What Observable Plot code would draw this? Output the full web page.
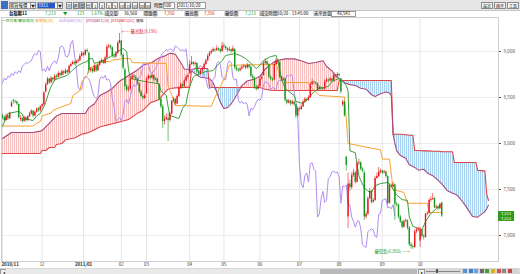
<!DOCTYPE html>
<html><head><meta charset="utf-8">
<script src="https://cdn.jsdelivr.net/npm/d3@7"></script>
<script src="https://cdn.jsdelivr.net/npm/@observablehq/plot@0.6"></script>
<style>
body{margin:0;width:520px;height:274px;overflow:hidden;background:#fff;position:relative;font-family:"Noto Sans CJK TC","Noto Sans",sans-serif}
.a{position:absolute;white-space:nowrap;font-size:4.3px;line-height:5px}
.lg{position:absolute;white-space:nowrap;font-size:3.8px;line-height:5px}
.box{position:absolute;box-sizing:border-box;border:0.5px solid #9a9a9a;background:#fff}
.btn{position:absolute;box-sizing:border-box;border:0.5px solid #8a8a8a;background:#f4f4f4;font-size:4px;line-height:6px;text-align:center;color:#222}
.lab{position:absolute;background:#dcdcdc;font-size:4.3px;line-height:5px;padding:0 1px;color:#222}
</style></head><body>
<svg width="0" height="0" style="position:absolute"><defs>
<pattern id="hr" width="2" height="4" patternUnits="userSpaceOnUse"><rect width="2" height="4" fill="#fff7f7"/><rect width="0.8" height="4" fill="#f5b4b4"/></pattern>
<pattern id="hb" width="2" height="4" patternUnits="userSpaceOnUse"><rect width="2" height="4" fill="#edf6fd"/><rect width="0.8" height="4" fill="#96c8ec"/></pattern>
</defs></svg>

<!-- toolbar row -->
<div style="position:absolute;left:0;top:0;width:520px;height:10px;background:#e6e6e6;border-bottom:0.5px solid #c4c4c4"></div>
<div style="position:absolute;left:1px;top:1px;width:7px;height:8px;background:#3d6fc4"></div>
<div class="box" style="left:9px;top:1.5px;width:27px;height:7px"></div><div class="a" style="left:10px;top:2.5px">期貨報價</div><div class="btn" style="left:30px;top:1.5px;width:6px;height:7px">▼</div>
<div class="box" style="left:37px;top:1.5px;width:26px;height:7px"></div><div style="position:absolute;left:38px;top:2.5px;width:17px;height:5px;background:#2b58c8"></div><div class="a" style="left:38.5px;top:2.5px;color:#fff">TX11</div><div class="btn" style="left:57px;top:1.5px;width:6px;height:7px">▼</div>
<div id="tbtns"></div>
<div class="a" style="left:154px;top:2.5px">時間</div>
<div class="box" style="left:163px;top:1.5px;width:12px;height:7px"></div><div class="a" style="left:164px;top:2.5px">500</div>
<div class="box" style="left:177px;top:1.5px;width:29px;height:7px"></div><div class="a" style="left:178px;top:2.5px">2011/10/20</div>
<div class="btn" style="left:481px;top:1.5px;width:12px;height:7px">設定</div>
<div class="btn" style="left:494px;top:1.5px;width:12px;height:7px">操作</div>
<div class="btn" style="left:507px;top:1.5px;width:12px;height:7px">工具</div>

<!-- quote row -->
<div class="a" style="left:9px;top:11px;font-weight:bold">台指期11</div>
<div class="a" style="left:45px;top:11px;color:#1f9a1f">7,213</div>
<div class="a" style="left:63px;top:11px;color:#1f9a1f">▼</div>
<div class="a" style="left:77px;top:11px;color:#1f9a1f">123</div>
<div class="a" style="left:91px;top:11px;color:#1f9a1f">1.67%</div>
<div class="lab" style="left:104px;top:11px">成交量</div>
<div class="a" style="left:124px;top:11px">36,560</div>
<div class="lab" style="left:143px;top:11px">開盤價</div>
<div class="a" style="left:164px;top:11px;color:#e02020">7,356</div>
<div class="lab" style="left:184px;top:11px">最高價</div>
<div class="a" style="left:204px;top:11px;color:#e02020">7,356</div>
<div class="lab" style="left:224px;top:11px">最低價</div>
<div class="a" style="left:245px;top:11px;color:#1f9a1f">7,213</div>
<div class="lab" style="left:259px;top:11px">成交時間</div>
<div class="a" style="left:277px;top:11px">10/20 - 13:45:00</div>
<div class="lab" style="left:313px;top:11px">未平倉量</div>
<div class="box" style="left:331px;top:10.5px;width:25px;height:6px"></div>
<div class="a" style="left:337px;top:11px">46,541</div>

<div id="chart" style="position:absolute;left:0;top:16px"></div>

<!-- legend row (over plot) -->
<div class="lg" style="left:2px;top:18px;color:#2c9c2c">一目均衡 轉換線[9]</div>
<div class="lg" style="left:35px;top:18px;color:#f0a020">基準線[26]</div>
<div class="lg" style="left:59px;top:18px;color:#b48ef2">lockspan[26]</div>
<div class="lg" style="left:86px;top:18px;color:#b0487e">prespan1[26]</div>
<div class="lg" style="left:111px;top:18px;color:#e03030">prespan2[52]</div>
<div class="lg" style="left:136px;top:18px;color:#111">價格</div>

<div id="tag" style="position:absolute;left:498px;width:16px;height:10px;background:#2f9b1e;color:#fff;font-size:4px;line-height:4.6px;text-align:center"></div>

<!-- scrollbar row -->
<div style="position:absolute;left:0;top:268px;width:520px;height:6px;background:#d8d8d8"></div>
<div style="position:absolute;left:0;top:268.5px;width:5px;height:5px;background:#efefef;border:0.5px solid #999;font-size:3.5px;line-height:5px;text-align:center">◂</div>
<div style="position:absolute;left:6px;top:269px;width:412px;height:4.5px;background:#e9e9e9"></div>
<div style="position:absolute;left:320px;top:269px;width:97px;height:4.5px;background:#b9b9b9"></div>
<div style="position:absolute;left:418px;top:268.5px;width:5px;height:5px;background:#efefef;border:0.5px solid #999;font-size:3.5px;line-height:5px;text-align:center">▸</div>
<div style="position:absolute;left:426px;top:270.5px;width:34px;height:1px;background:#888"></div>
<div style="position:absolute;left:436px;top:269px;width:2px;height:4px;background:#555"></div>
<div id="icons"></div>

<script>
// ---------------- data ----------------
const monthIdx = [0,22,45,66,80,104,123,143,165,187,211,232];
const monthLab = ["2010/11","12","2011/01","02","03","04","05","06","07","08","09","10"];
const yGrid = [7000,7500,8000,8500,9000];

// daily candles, bar index 0 = 2010/11/01 ... 244 = 2011/10/20
const O = [8300,8280,8250,8300,8270,8400,8470,8460,8450,8424,
8260,8270,8240,8280,8250,8290,8320,8350,8300,8340,
8380,8360,8400,8420,8560,8640,8700,8660,8710,8690,
8730,8720,8760,8740,8780,8760,8790,8770,8840,8860,
8880,8870,8890,8900,8950,8980,8960,9010,8980,8790,
8810,8780,8840,8790,8850,8880,8900,8870,8930,9050,
9060,9040,8950,8940,8980,9090,9110,8960,8800,8620,
8580,8590,8700,8730,8720,8700,8650,8560,8510,8490,
8540,8700,8730,8710,8740,8690,8700,8640,8480,8400,
8240,8260,8270,8250,8320,8460,8480,8430,8510,8600,
8640,8620,8680,8720,8760,8860,8880,8860,8870,8780,
8760,8790,8810,8860,8900,8950,8980,9000,9020,9010,
9030,9020,9000,9060,9050,9030,9010,9020,9000,9020,
8820,8800,8790,8810,8830,8840,8820,8850,8830,8730,
8710,8610,8590,8620,8700,8740,8870,8890,8860,8720,
8700,8690,8860,8900,8880,8720,8690,8700,8470,8440,
8460,8430,8450,8420,8300,8380,8370,8400,8450,8480,
8470,8500,8640,8670,8660,8650,8590,8610,8600,8590,
8670,8690,8680,8700,8680,8740,8730,8750,8700,8420,
8450,7850,7200,7560,7520,7650,7680,7580,7780,7790,
7720,7680,7200,7230,7400,7480,7360,7380,7620,7640,
7690,7700,7680,7690,7640,7350,7540,7530,7550,7340,
7330,7200,7150,7090,7150,7160,7080,6900,6880,6870,
7040,7060,6940,7060,6990,6980,7230,7240,7380,7390,
7400,7300,7310,7290,7356];
const H = [8320,8300,8320,8310,8340,8460,8480,8470,8460,8430,
8300,8280,8300,8290,8300,8340,8370,8360,8350,8390,
8390,8410,8430,8565,8660,8720,8710,8730,8720,8750,
8750,8780,8770,8800,8790,8810,8800,8850,8880,8900,
8890,8910,8920,8970,9000,8990,9020,9030,8990,8830,
8820,8860,8850,8870,8900,8920,8910,8950,9070,9080,
9070,9050,8970,9000,9110,9196,9120,8980,8820,8640,
8620,8720,8760,8750,8740,8710,8660,8580,8530,8540,
8720,8750,8740,8760,8750,8720,8710,8650,8500,8420,
8300,8320,8330,8340,8470,8500,8490,8530,8620,8660,
8650,8700,8740,8760,8900,8946,8890,8890,8880,8790,
8810,8830,8880,8920,8970,9000,9020,9040,9030,9060,
9040,9030,9100,9090,9060,9040,9050,9030,9060,9030,
8840,8820,8830,8850,8860,8850,8870,8860,8840,8750,
8720,8630,8640,8720,8740,8890,8920,8900,8870,8740,
8710,8880,8920,8910,8890,8730,8720,8710,8480,8480,
8470,8470,8460,8430,8400,8390,8420,8470,8500,8490,
8520,8660,8700,8680,8670,8660,8630,8620,8610,8690,
8710,8700,8720,8710,8760,8750,8770,8760,8710,8470,
8460,7860,7680,7600,7680,7720,7700,7800,7830,7800,
7740,7700,7260,7420,7510,7490,7400,7640,7680,7739,
7720,7710,7710,7700,7650,7560,7560,7576,7560,7360,
7340,7220,7160,7170,7180,7170,7100,6920,6900,7060,
7080,7090,7090,7070,7010,7240,7260,7400,7420,7456,
7410,7330,7320,7350,7356];
const L = [8260,8230,8240,8250,8260,8390,8430,8430,8410,8270,
8240,8220,8230,8230,8240,8280,8310,8280,8290,8330,
8340,8340,8380,8410,8550,8630,8640,8650,8670,8680,
8700,8710,8720,8730,8740,8750,8750,8760,8830,8850,
8850,8860,8870,8890,8940,8940,8950,8980,8760,8770,
8760,8770,8770,8780,8840,8870,8860,8860,8920,9030,
9020,8930,8920,8930,8970,9080,8940,8800,8580,8560,
8560,8580,8690,8700,8680,8630,8540,8500,8470,8480,
8530,8690,8690,8700,8670,8680,8640,8460,8380,8163,
8200,8250,8022,8230,8310,8440,8410,8420,8500,8590,
8600,8610,8670,8700,8750,8850,8840,8840,8760,8740,
8740,8770,8800,8850,8890,8940,8970,8990,8990,9000,
9000,8980,8990,9030,9010,8990,9000,8980,8990,8800,
8780,8770,8780,8800,8820,8800,8810,8810,8710,8690,
8590,8570,8580,8610,8690,8730,8860,8840,8700,8680,
8670,8680,8850,8860,8700,8670,8680,8450,8420,8430,
8410,8420,8400,8272,8290,8350,8360,8390,8440,8450,
8460,8490,8630,8640,8630,8570,8580,8580,8570,8580,
8660,8660,8670,8660,8670,8710,8720,8720,8540,8400,
8290,7700,7076,7480,7500,7630,7560,7570,7760,7700,
7680,7163,7180,7220,7390,7340,7350,7370,7610,7630,
7670,7660,7670,7620,7330,7340,7510,7520,7163,7310,
7180,7130,7070,7080,7140,7060,6880,6850,6850,6860,
7020,7040,6870,6970,6950,6970,7210,7230,7360,7380,
7290,7290,7270,7280,7196];
const C = [8280,8250,8300,8270,8330,8440,8460,8450,8430,8280,
8270,8240,8280,8250,8290,8320,8350,8300,8340,8370,
8360,8400,8420,8550,8640,8700,8660,8710,8690,8730,
8720,8760,8740,8780,8760,8790,8770,8840,8860,8880,
8870,8890,8900,8950,8980,8960,9010,9000,8790,8810,
8780,8840,8790,8850,8880,8900,8870,8930,9050,9060,
9040,8950,8940,8980,9090,9120,8960,8820,8620,8580,
8590,8700,8730,8720,8700,8650,8560,8510,8490,8520,
8700,8730,8710,8740,8690,8700,8660,8480,8400,8240,
8260,8280,8250,8320,8460,8480,8430,8510,8600,8640,
8620,8680,8720,8740,8860,8880,8860,8870,8780,8760,
8790,8810,8860,8900,8950,8980,9000,9020,9010,9030,
9020,9000,9060,9050,9030,9010,9020,9000,9030,8820,
8800,8790,8810,8830,8840,8820,8850,8830,8730,8710,
8610,8590,8620,8700,8720,8870,8890,8860,8720,8700,
8690,8860,8900,8880,8720,8690,8700,8470,8440,8460,
8430,8450,8420,8300,8380,8370,8400,8450,8480,8470,
8500,8640,8670,8660,8650,8590,8610,8600,8590,8670,
8690,8680,8700,8680,8740,8730,8750,8740,8560,8450,
8300,7760,7560,7520,7650,7680,7580,7780,7790,7720,
7700,7200,7230,7400,7480,7360,7380,7620,7640,7690,
7700,7680,7690,7640,7350,7540,7530,7550,7340,7330,
7200,7150,7090,7150,7160,7080,6900,6880,6870,7040,
7060,7070,7060,6990,6980,7230,7240,7380,7390,7400,
7300,7310,7290,7336,7213];

// 轉換線[9]  [bar index, value]
const tenkan = [[0,8185],[3,8326],[9,8350],[11,8320],[12,8270],[17,8250],[19,8300],[21,8326],[23,8400],[24,8450],[26,8570],[27,8620],[29,8690],[31,8707],[36,8740],[39,8800],[42,8848],[45,8880],[47,8891],[48,8920],[50,8924],[51,8870],[54,8890],[57,8910],[60,8945],[62,8965],[64,9000],[67,9033],[69,9000],[70,8800],[71,8707],[79,8674],[87,8650],[88,8570],[91,8522],[92,8400],[93,8304],[98,8272],[100,8380],[102,8435],[103,8540],[104,8620],[106,8720],[107,8739],[113,8783],[117,8793],[119,8840],[122,8902],[124,8957],[129,8978],[132,8957],[135,8924],[137,8891],[141,8815],[143,8850],[145,8902],[149,8945],[152,8957],[153,8891],[155,8707],[157,8598],[162,8522],[163,8457],[167,8435],[170,8489],[173,8565],[176,8598],[181,8620],[183,8674],[187,8707],[189,8674],[191,8630],[192,8565],[193,7920],[196,7900],[197,7770],[198,7650],[199,7600],[201,7520],[203,7480],[205,7470],[207,7540],[210,7565],[214,7576],[216,7540],[217,7500],[219,7440],[222,7390],[225,7380],[226,7200],[228,7100],[233,7060],[235,7150],[238,7240],[241,7290],[243,7330],[244,7340]];
// 基準線[26]
const kijun = [[0,8190],[17,8190],[19,8220],[21,8240],[22,8300],[27,8330],[28,8360],[33,8400],[38,8435],[39,8520],[43,8576],[44,8670],[47,8740],[48,8815],[54,8870],[55,8891],[60,8891],[61,8905],[67,8924],[71,8924],[72,8880],[91,8870],[92,8620],[94,8530],[96,8413],[116,8405],[118,8500],[121,8620],[124,8740],[126,8850],[152,8860],[155,8700],[157,8663],[170,8663],[172,8600],[176,8522],[190,8505],[192,8000],[210,7930],[211,7830],[215,7830],[217,7500],[223,7467],[225,7350],[236,7350],[237,7250],[244,7250]];
// 先行スパン (shifted 26 ahead): bar index, prespan1, prespan2
const cloudIdx = [0,5,17,21,22,24,26,27,29,30,33,35,40,44,46,48,51,54,56,58,61,64,66,68,70,71,73,75,78,82,83,86,87,90,92,93,94,96,99,101,103,104,105,107,110,114,115,117,119,121,123,125,127,129,131,133,136,140,143,146,149,152,157,162,166,170,174,178,180,183,186,187,190,193,196,199,202,205,207,210,213,215,216,217,218,219,221,224,226,228,229,231,234,236,239,242,244,247,250,251,253,255,257,259,261,263,264,266,268,269,270];
const span1 = [8054,8120,8120,8135,8140,8180,8220,8240,8280,8300,8326,8326,8326,8326,8326,8390,8430,8520,8540,8560,8600,8660,8690,8710,8740,8750,8775,8800,8850,8875,8880,8920,8930,8950,8970,8980,8980,8970,8880,8810,8805,8800,8790,8760,8720,8710,8705,8660,8560,8450,8380,8390,8430,8490,8560,8630,8680,8700,8730,8810,8860,8900,8920,8920,8900,8870,8880,8900,8840,8790,8720,8705,8660,8640,8630,8600,8590,8530,8510,8540,8560,8550,8520,8100,8000,7920,7870,7840,7770,7750,7740,7710,7720,7680,7650,7600,7560,7490,7460,7455,7430,7380,7330,7270,7210,7200,7200,7230,7260,7290,7330];
const span2 = [7891,7891,7891,7891,7924,7924,7957,7957,7957,7990,8000,8040,8060,8100,8110,8120,8150,8180,8190,8200,8215,8230,8240,8250,8260,8275,8300,8330,8360,8440,8450,8470,8480,8550,8590,8595,8600,8605,8608,8610,8610,8610,8800,8815,8815,8815,8609,8609,8609,8609,8609,8609,8609,8609,8609,8609,8609,8609,8609,8590,8580,8576,8576,8576,8576,8576,8576,8576,8576,8576,8576,8685,8685,8685,8685,8685,8685,8685,8685,8685,8685,8685,8685,8100,8100,8100,8100,8095,8090,8090,7924,7924,7920,7920,7915,7915,7912,7910,7910,7793,7793,7793,7793,7793,7793,7793,7707,7705,7700,7450,7380];

const hiMark = [{i:65, v:9196, t:"←— 最高點(9,196)"}];
const loMark = [{i:227, v:6850, t:"最低點(6,850) —→"}];
const lastClose = 7213;

// ---------------- tables ----------------
const bars = C.map((c,i)=>({i, o:O[i], h:H[i], l:L[i], c}));
const up = bars.filter(d=>d.c>=d.o), dn = bars.filter(d=>d.c<d.o);
const cloud = cloudIdx.map((x,k)=>({x, s1:span1[k], s2:span2[k]}));
const chikou = C.slice(26).map((c,k)=>({x:k, y:c}));
const RED="#e8161c", GRN="#16961a";
const months = monthIdx.map((x,k)=>({x, t:monthLab[k]}));

const plot = Plot.plot({
  width:520, height:252, marginTop:1, marginBottom:7, marginLeft:1, marginRight:22,
  style:{fontSize:"4.6px", fontFamily:"'Noto Sans CJK TC','Noto Sans',sans-serif", color:"#555", background:"transparent", overflow:"visible"},
  x:{domain:[-0.556,275.556], axis:null},
  y:{domain:[6717,9370], axis:"right", ticks:yGrid, tickFormat:d3.format(","), tickSize:2, tickPadding:3, label:null},
  marks:[
    Plot.ruleY(yGrid,{stroke:"#ececec"}),
    Plot.ruleX(monthIdx,{stroke:"#e6e6e6"}),
    Plot.areaY(cloud,{x:"x", y1:"s2", y2:d=>Math.max(d.s1,d.s2), fill:"url(#hr)"}),
    Plot.areaY(cloud,{x:"x", y1:d=>Math.min(d.s1,d.s2), y2:"s2", fill:"url(#hb)"}),
    Plot.line(cloud,{x:"x", y:"s2", stroke:"#e04646", strokeWidth:1.1}),
    Plot.line(cloud,{x:"x", y:"s1", stroke:"#a44c7e", strokeWidth:1.1}),
    Plot.line(chikou,{x:"x", y:"y", stroke:"#b18ef0", strokeWidth:1}),
    Plot.line(kijun,{x:d=>d[0], y:d=>d[1], stroke:"#f7a330", strokeWidth:1}),
    Plot.line(tenkan,{x:d=>d[0], y:d=>d[1], stroke:"#3ba03b", strokeWidth:1}),
    Plot.ruleX(up,{x:"i", y1:"l", y2:"h", stroke:RED, strokeWidth:0.6}),
    Plot.ruleX(dn,{x:"i", y1:"l", y2:"h", stroke:GRN, strokeWidth:0.6}),
    Plot.ruleX(up,{x:"i", y1:"o", y2:"c", stroke:RED, strokeWidth:1.4}),
    Plot.ruleX(dn,{x:"i", y1:"o", y2:"c", stroke:GRN, strokeWidth:1.4}),
    Plot.text(hiMark,{x:"i", y:"v", text:"t", textAnchor:"start", dx:2, dy:-2, fill:"#e02828", fontSize:4.3}),
    Plot.text(loMark,{x:"i", y:"v", text:"t", textAnchor:"end", dx:-1, dy:2, fill:"#2a9a2a", fontSize:4.3}),
    Plot.text(months.slice(0,1),{x:"x", text:"t", frameAnchor:"bottom", dy:4.2, textAnchor:"start", dx:-1, fill:"#222", fontWeight:"bold", fontSize:4.4}),
    Plot.text(months.slice(2,3),{x:"x", text:"t", frameAnchor:"bottom", dy:4.2, fill:"#222", fontWeight:"bold", fontSize:4.4}),
    Plot.text(months.filter((d,k)=>k!==0&&k!==2),{x:"x", text:"t", frameAnchor:"bottom", dy:4.2, fill:"#333", fontSize:4.4}),
    Plot.frame({stroke:"#cfcfcf"})
  ]
});
document.getElementById("chart").appendChild(plot);

// price tag at last close, placed with the plot's own y scale
const ty = plot.scale("y").apply(lastClose) + 16;
const tag = document.getElementById("tag");
tag.style.top = (ty-4)+"px";
tag.innerHTML = d3.format(",")(lastClose)+"<br>"+d3.format(",")(lastClose);

// toolbar period buttons
const periods = ["月","週","日","分","1","2","3","5","10","15","20","30","60"];
const tb = document.getElementById("tbtns");
periods.forEach((p,k)=>{const b=document.createElement("div");b.className="btn";b.style.left=(66+k*6.6)+"px";b.style.top="1.5px";b.style.width="6px";b.style.height="7px";b.textContent=p;if(p==="日"){b.style.background="#9fb5d6";}tb.appendChild(b);});
const icons = ["#5b8fd6","#3c7fd0","#6aa0e0","#6a6a6a","#4c9c3a","#e0b020","#d85050","#8a8a8a","#cc4444","#d0d0d0"];
const ic = document.getElementById("icons");
icons.forEach((c,k)=>{const s=document.createElement("div");s.style.cssText=`position:absolute;top:269px;left:${463+k*5.6}px;width:4px;height:4px;background:${c}`;ic.appendChild(s);});
</script>
</body></html>
